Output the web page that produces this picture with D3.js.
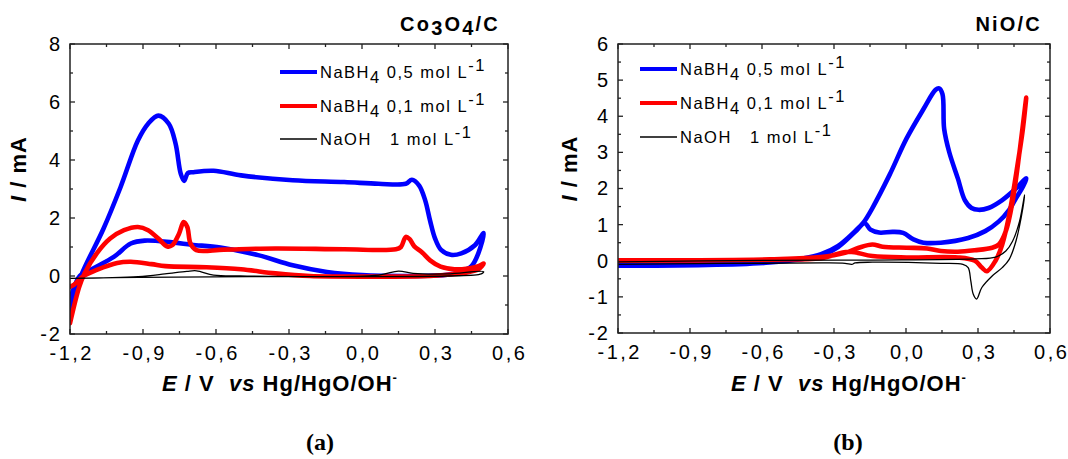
<!DOCTYPE html>
<html><head><meta charset="utf-8">
<script src="https://cdn.jsdelivr.net/npm/d3@7"></script>
<style>
body{margin:0;background:#fff;}
svg text{font-family:"Liberation Sans",Arial,sans-serif;}
</style></head><body>
<svg id="chart" width="1068" height="459"></svg>
<script>
// ---------- DATA ----------
const xTicks = [-1.2, -0.9, -0.6, -0.3, 0.0, 0.3, 0.6];
const xTickLabels = ["-1,2","-0,9","-0,6","-0,3","0,0","0,3","0,6"];
const coYTicks = [-2, 0, 2, 4, 6, 8];
const niYTicks = [-2, -1, 0, 1, 2, 3, 4, 5, 6];
const seriesNames = ["NaBH4 0,5 mol L-1", "NaBH4 0,1 mol L-1", "NaOH 1 mol L-1"];

// Co3O4/C  [E (V), I (mA)]
const coBlue = [[-1.2,-1.2],[-1.155,0],[-1.063,1.62],[-0.992,3.07],[-0.921,4.67],[-0.879,5.25],[-0.837,5.53],
 [-0.794,5.25],[-0.766,4.56],[-0.745,3.53],[-0.731,3.28],[-0.716,3.55],[-0.695,3.58],[-0.61,3.63],[-0.497,3.47],
 [-0.285,3.3],[-0.073,3.24],[0.068,3.18],[0.18,3.18],[0.205,3.32],[0.235,3.12],[0.26,2.6],[0.28,1.9],[0.3,1.3],
 [0.325,0.9],[0.365,0.73],[0.408,0.78],[0.464,1.06],[0.5,1.48],
 [0.478,0.78],[0.45,0.34],[0.408,0.15],[0.351,0.04],[0.21,0.0],[0.0,0.03],[-0.144,0.14],[-0.285,0.37],[-0.427,0.72],
 [-0.582,0.98],[-0.7,1.08],[-0.78,1.16],[-0.893,1.22],[-0.95,1.12],[-1.02,0.66],[-1.105,0.26],[-1.16,0],[-1.2,-0.85]];
const coRed = [[-1.2,-1.63],[-1.162,-0.37],[-1.14,0.09],[-1.09,0.78],[-1.035,1.29],[-0.978,1.58],[-0.921,1.69],
 [-0.879,1.58],[-0.837,1.29],[-0.8,1.02],[-0.78,1.06],[-0.752,1.46],[-0.733,1.86],[-0.718,1.69],[-0.705,1.12],
 [-0.681,0.89],[-0.568,0.91],[-0.356,0.95],[-0.073,0.92],[0.139,0.92],[0.16,1.0],[0.18,1.35],[0.195,1.28],
 [0.215,1.02],[0.245,0.83],[0.28,0.54],[0.323,0.32],[0.38,0.23],[0.436,0.26],[0.478,0.34],[0.5,0.43],
 [0.478,0.23],[0.422,0.11],[0.28,0.0],[0.068,-0.02],[-0.214,0.0],[-0.356,0.09],[-0.497,0.23],[-0.639,0.3],
 [-0.808,0.34],[-0.865,0.41],[-0.95,0.49],[-1.006,0.45],[-1.09,0.21],[-1.148,-0.02],[-1.183,-0.3],[-1.2,-0.37]];
const coBlack = [[-1.2,-0.08],[-0.92,-0.02],[-0.81,0.07],[-0.72,0.16],[-0.68,0.18],[-0.61,0.03],[-0.5,0.0],
 [0.068,0.03],[0.15,0.17],[0.21,0.09],[0.35,0.07],[0.5,0.15],
 [0.49,0.07],[0.35,0.0],[-0.356,-0.02],[-0.92,-0.05],[-1.2,-0.08]];

// NiO/C
const niBlue = [[-1.2,-0.12],[-0.568,-0.03],[-0.426,0.07],[-0.354,0.18],[-0.283,0.41],[-0.212,0.82],[-0.176,1.07],
 [-0.14,1.46],[-0.069,2.37],[0.002,3.38],[0.073,4.2],[0.123,4.73],[0.138,4.77],[0.152,4.61],[0.159,3.65],
 [0.18,3.01],[0.216,2.28],[0.245,1.68],[0.273,1.46],[0.302,1.41],[0.344,1.46],[0.401,1.68],[0.458,2.0],[0.501,2.28],
 [0.487,2.05],[0.458,1.73],[0.43,1.41],[0.387,1.09],[0.33,0.82],[0.259,0.63],[0.145,0.5],[0.073,0.5],[0.031,0.59],
 [-0.012,0.77],[-0.055,0.8],[-0.112,0.78],[-0.148,0.86],[-0.172,1.04],[-0.212,0.8],[-0.283,0.38],[-0.354,0.15],
 [-0.568,-0.05],[-1.2,-0.14]];
const niRed = [[-1.2,0.01],[-0.568,0.04],[-0.354,0.1],[-0.254,0.22],[-0.197,0.36],[-0.14,0.45],[-0.098,0.39],
 [0.002,0.36],[0.088,0.34],[0.145,0.27],[0.216,0.25],[0.287,0.29],[0.359,0.36],[0.387,0.45],[0.416,0.82],
 [0.444,1.64],[0.473,3.01],[0.501,4.52],
 [0.487,3.65],[0.458,2.37],[0.43,1.27],[0.401,0.45],[0.373,0.0],[0.337,-0.29],[0.316,-0.19],[0.287,0.0],
 [0.216,0.09],[0.002,0.09],[-0.14,0.13],[-0.24,0.25],[-0.354,0.07],[-0.568,0.03],[-1.2,0.0]];
const niBlack = [[-1.2,-0.03],[-0.568,0.01],[-0.14,0.02],[0.287,0.05],[0.373,0.1],[0.416,0.27],[0.444,0.54],
 [0.473,1.09],[0.494,1.82],
 [0.487,1.46],[0.458,0.54],[0.43,0.04],[0.401,-0.19],[0.359,-0.42],[0.316,-0.74],[0.294,-1.06],[0.28,-0.92],
 [0.27,-0.56],[0.259,-0.19],[0.237,-0.1],[0.145,-0.07],[-0.14,-0.04],[-0.212,-0.06],[-0.226,-0.1],[-0.254,-0.07],
 [-0.354,-0.06],[-1.2,-0.1]];

// ---------- DRAW ----------
const svg = d3.select("#chart");
const colors = ["#0000ff", "#ff0000", "#000000"];
const widths = [4.6, 4.6, 1.3];

function panel(cfg){
  const g = svg.append("g");
  const x = d3.scaleLinear().domain([-1.2, 0.6]).range([cfg.x0, cfg.x1]);
  const y = d3.scaleLinear().domain(cfg.yDomain).range([cfg.y1, cfg.y0]);

  const xMinor = d3.range(-1.2, 0.601, 0.15).map(v => +v.toFixed(2));
  const yMinor = d3.range(cfg.yDomain[0], cfg.yDomain[1] + 0.001, cfg.yMinorStep);
  const tickG = g.append("g").attr("stroke", "#222").attr("stroke-width", 1.3);
  xMinor.forEach(v => {
    const major = xTicks.some(t => Math.abs(t - v) < 1e-6);
    const len = major ? 5 : 3;
    tickG.append("line").attr("x1", x(v)).attr("x2", x(v)).attr("y1", y.range()[0]).attr("y2", y.range()[0] - len);
    tickG.append("line").attr("x1", x(v)).attr("x2", x(v)).attr("y1", y.range()[1]).attr("y2", y.range()[1] + len);
  });
  yMinor.forEach(v => {
    const major = cfg.yTicks.some(t => Math.abs(t - v) < 1e-6);
    const len = major ? 5 : 3;
    tickG.append("line").attr("y1", y(v)).attr("y2", y(v)).attr("x1", cfg.x0).attr("x2", cfg.x0 + len);
    tickG.append("line").attr("y1", y(v)).attr("y2", y(v)).attr("x1", cfg.x1).attr("x2", cfg.x1 - len);
  });

  const xAxis = d3.axisBottom(x).tickValues(xTicks).tickSize(0).tickPadding(9)
    .tickFormat((d, i) => xTickLabels[i]);
  const xa = g.append("g").attr("transform", `translate(0,${cfg.y1})`).call(xAxis);
  xa.select(".domain").remove();
  xa.selectAll("text").attr("font-size", 20).style("letter-spacing", "2.5px")
    .attr("font-family", "Liberation Sans, Arial, sans-serif").attr("fill", "#000").attr("dy", "0.85em")
    .attr("dx", 1.2);
  const yAxis = d3.axisLeft(y).tickValues(cfg.yTicks).tickSize(0).tickPadding(8).tickFormat(d => String(d));
  const ya = g.append("g").attr("transform", `translate(${cfg.x0},0)`).call(yAxis);
  ya.select(".domain").remove();
  ya.selectAll("text").attr("font-size", 20).style("letter-spacing", "2px")
    .attr("font-family", "Liberation Sans, Arial, sans-serif").attr("fill", "#000");

  const clipId = "clip" + cfg.id;
  g.append("clipPath").attr("id", clipId).append("rect")
    .attr("x", cfg.x0).attr("y", cfg.y0 - 20).attr("width", cfg.x1 - cfg.x0 + 10).attr("height", cfg.y1 - cfg.y0 + 20);
  const line = d3.line().x(d => x(d[0])).y(d => y(d[1])).curve(d3.curveCatmullRom.alpha(0.5));
  const cg = g.append("g").attr("clip-path", `url(#${clipId})`);
  cfg.series.forEach((s, i) => {
    cg.append("path").datum(s).attr("d", line).attr("fill", "none")
      .attr("stroke", colors[i]).attr("stroke-width", widths[i])
      .attr("stroke-linejoin", "round").attr("stroke-linecap", "round");
  });

  g.append("rect").attr("x", cfg.x0).attr("y", cfg.y0).attr("width", cfg.x1 - cfg.x0).attr("height", cfg.y1 - cfg.y0)
    .attr("fill", "none").attr("stroke", "#222").attr("stroke-width", 1.5);

  seriesNames.forEach((name, i) => {
    const ly = cfg.legY[i];
    g.append("line").attr("x1", cfg.legX).attr("x2", cfg.legX + 37).attr("y1", ly).attr("y2", ly)
      .attr("stroke", colors[i]).attr("stroke-width", i < 2 ? 3.8 : 1.3);
    const t = g.append("text").attr("x", cfg.legX + 40).attr("y", ly + 6)
      .attr("font-size", 16.5).style("letter-spacing", "1.5px").attr("fill", "#000");
    if (i < 2) {
      t.append("tspan").text("NaBH");
      t.append("tspan").attr("dy", 5).text("4");
      t.append("tspan").attr("dy", -5).text(i === 0 ? " 0,5 mol L" : " 0,1 mol L");
    } else {
      t.append("tspan").text("NaOH\u00a0\u00a0 1 mol L");
    }
    t.append("tspan").attr("dy", -7).text("-1");
  });

  const tt = g.append("text").attr("x", cfg.titleX).attr("y", 31).attr("text-anchor", "end")
    .attr("font-size", 20).attr("font-weight", "bold").style("letter-spacing", "2.2px");
  if (cfg.id === "a") {
    tt.append("tspan").text("Co");
    tt.append("tspan").attr("dy", 4).text("3");
    tt.append("tspan").attr("dy", -4).text("O");
    tt.append("tspan").attr("dy", 4).text("4");
    tt.append("tspan").attr("dy", -4).text("/C");
  } else {
    tt.text("NiO/C");
  }

  const xt = g.append("text").attr("x", cfg.xTitleX).attr("y", 391).attr("text-anchor", "middle")
    .attr("font-size", 22).attr("font-weight", "bold").style("letter-spacing", "1px");
  xt.append("tspan").attr("font-style", "italic").text("E");
  xt.append("tspan").text(" / V\u00a0\u00a0");
  xt.append("tspan").attr("font-style", "italic").text("vs");
  xt.append("tspan").text(" Hg/HgO/OH");
  xt.append("tspan").attr("dy", -9).attr("font-size", 13).text("-");

  const yt = g.append("text").attr("transform", `translate(${cfg.yTitleX},${(cfg.y0 + cfg.y1) / 2 - 20}) rotate(-90)`)
    .attr("text-anchor", "middle").attr("font-size", 22).attr("font-weight", "bold").style("letter-spacing", "1px");
  yt.append("tspan").attr("font-style", "italic").text("I");
  yt.append("tspan").text(" / mA");

  svg.append("text").attr("x", cfg.letterX).attr("y", 450).attr("text-anchor", "middle")
    .style("font-family", "Liberation Serif, 'Times New Roman', serif")
    .attr("font-size", 24).attr("font-weight", "bold").text(cfg.letter);
}

panel({id: "a", x0: 70, x1: 508, y0: 44, y1: 334, yDomain: [-2, 8], yTicks: coYTicks, yMinorStep: 1,
  series: [coBlue, coRed, coBlack], legX: 280, legY: [72, 106, 139], titleX: 500, letterX: 320, letter: "(a)",
  xTitleX: 280, yTitleX: 26});
panel({id: "b", x0: 618, x1: 1050, y0: 44, y1: 333, yDomain: [-2, 6], yTicks: niYTicks, yMinorStep: 0.5,
  series: [niBlue, niRed, niBlack], legX: 640, legY: [69, 103, 137], titleX: 1042, letterX: 848, letter: "(b)",
  xTitleX: 849, yTitleX: 577});
</script>
</body></html>
